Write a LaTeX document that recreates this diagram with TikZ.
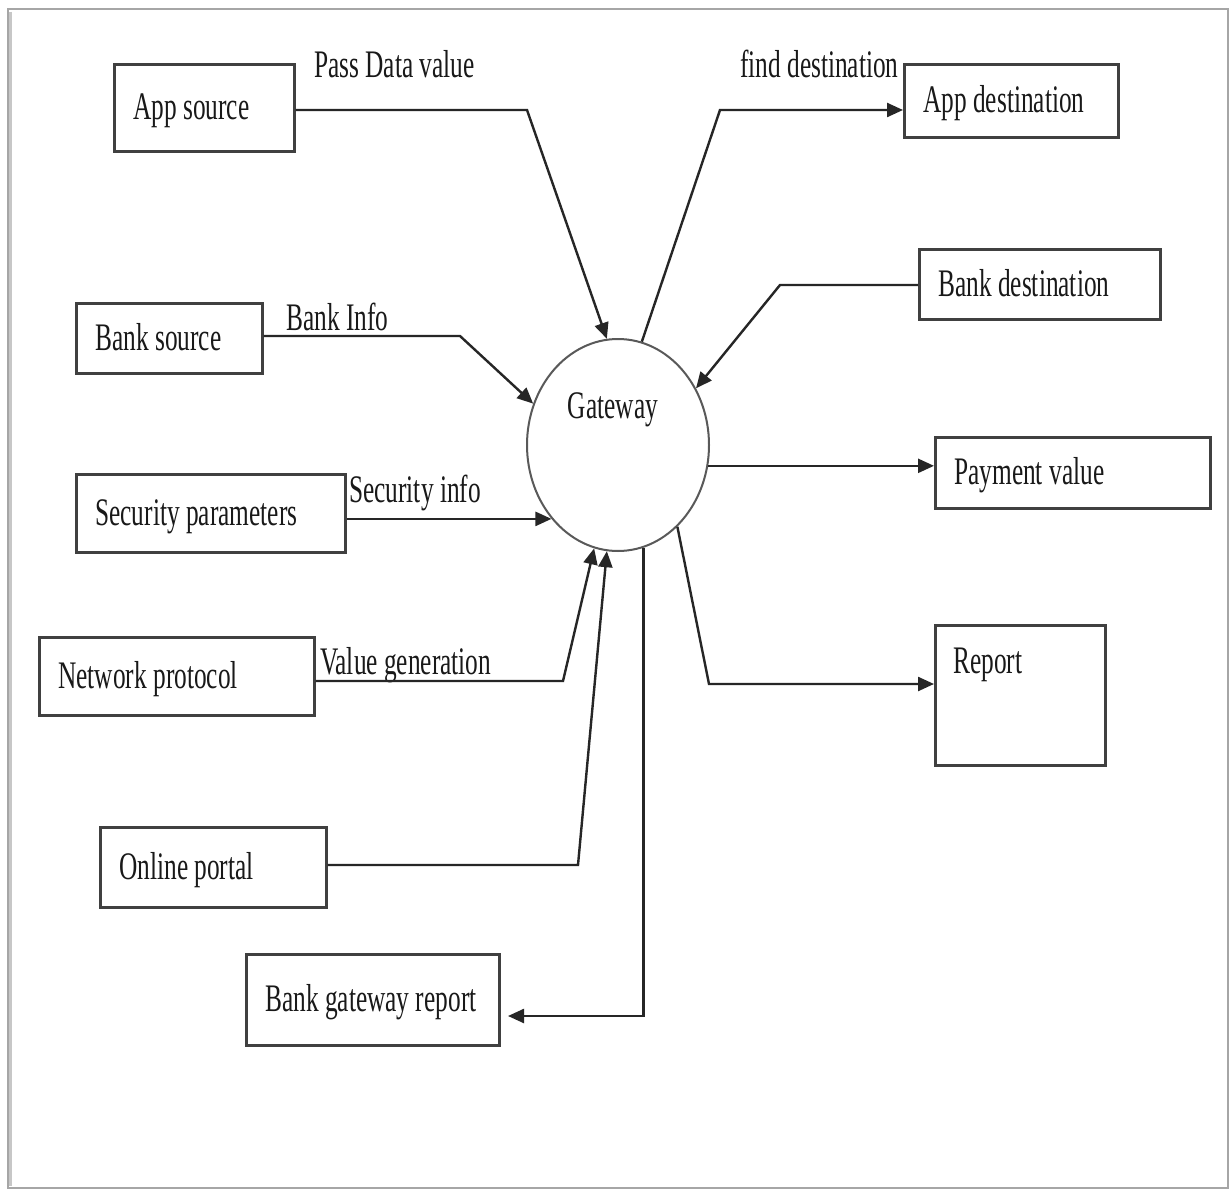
\documentclass[tikz,border=0pt]{standalone}
\usepackage{fontspec}
\setmainfont[FakeStretch=0.65]{Liberation Serif}
\usetikzlibrary{shapes.geometric,arrows.meta}

\begin{document}
\begin{tikzpicture}[x=1pt,y=-1pt,
  every node/.style={font=\fontsize{39}{46}\selectfont, text=black!90},
  box/.style={draw=black!75, line width=2.6pt, rectangle, anchor=north west,
    inner xsep=19pt, inner ysep=0pt,
    text height=32pt, text depth=8pt},
  flowlabel/.style={anchor=base west, inner sep=0pt},
  conn/.style={draw=black!85, line width=2.4pt,
    -{Triangle[length=16pt,width=14pt]}}
]
  % page and frame
  \useasboundingbox (0,0) rectangle (1231,1190);
  \fill[white] (0,0) rectangle (1231,1190);
  \draw[black!22, line width=5pt] (9,12) -- (9,1186);
  \draw[black!35, line width=1.6pt] (8,9) rectangle (1228,1188);

  % central process
  \node[ellipse, draw=black!65, line width=2pt, minimum width=182pt,
        minimum height=212pt, inner sep=0pt] (gw) at (618,445) {};
  \node[anchor=base, inner sep=0pt] (gwtxt) at (613,418) {Gateway};

  % external entities, left side
  \node[box, minimum height=87pt] (appsrc) at (113,63) {\makebox[142pt][l]{App source}};
  \node[box, minimum height=70pt] (banksrc) at (75,302) {\makebox[148pt][l]{Bank source}};
  \node[box, minimum height=78pt] (secpar) at (75,473) {\makebox[231pt][l]{Security parameters}};
  \node[box, minimum height=78pt] (netproto) at (38,636) {\makebox[237pt][l]{Network protocol}};
  \node[box, minimum height=80pt] (online) at (99,826) {\makebox[188pt][l]{Online portal}};
  \node[box, minimum height=91pt] (bgreport) at (245,953) {\makebox[215pt][l]{Bank gateway report}};

  % external entities, right side
  \node[box, minimum height=73pt] (appdst) at (903,63) {\makebox[176pt][l]{App destination}};
  \node[box, minimum height=70pt] (bankdst) at (918,248) {\makebox[203pt][l]{Bank destination}};
  \node[box, minimum height=71pt] (payval) at (934,436) {\makebox[237pt][l]{Payment value}};
  \node[box, minimum width=170pt, minimum height=140pt, inner xsep=0pt] (report) at (934,624) {};
  \node[flowlabel] (reporttxt) at (953,673) {Report};

  % flow labels
  \node[flowlabel] (lpass) at (314,78) {Pass Data value};
  \node[flowlabel] (lfind) at (740,78) {find destination};
  \node[flowlabel] (lbank) at (286,330) {Bank Info};
  \node[flowlabel] (lsec) at (349,502) {Security info};
  \node[flowlabel] (lval) at (320,674) {Value generation};

  % bend points
  \coordinate (c1) at (527,110);
  \coordinate (c2) at (720,110);
  \coordinate (c3) at (780,285);
  \coordinate (c4) at (460,336);
  \coordinate (c6) at (563,681);
  \coordinate (c7) at (578,865);
  \coordinate (c8) at (508,1016);
  \coordinate (c10) at (709,684);

  % inflows
  \draw[conn] (appsrc.east |- c1) -- (c1) -- (gw.96);
  \draw[conn] (bankdst.west |- c3) -- (c3) -- (gw.36);
  \draw[conn] (banksrc.east |- c4) -- (c4) -- (gw.154);
  \draw[conn] (secpar.east |- gw.228) -- (gw.228);
  \draw[conn] (netproto.east |- c6) -- (c6) -- (gw.257);
  \draw[conn] (online.east |- c7) -- (c7) -- (gw.264);

  % outflows
  \draw[conn] (gw.77) -- (c2) -- (c2 -| appdst.west);
  \draw[conn] (gw.-13) -- (gw.-13 -| payval.west);
  \draw[conn] (gw.-54) -- (c10) -- (c10 -| report.west);
  \draw[conn] (gw.284) |- (c8);
\end{tikzpicture}
\end{document}
